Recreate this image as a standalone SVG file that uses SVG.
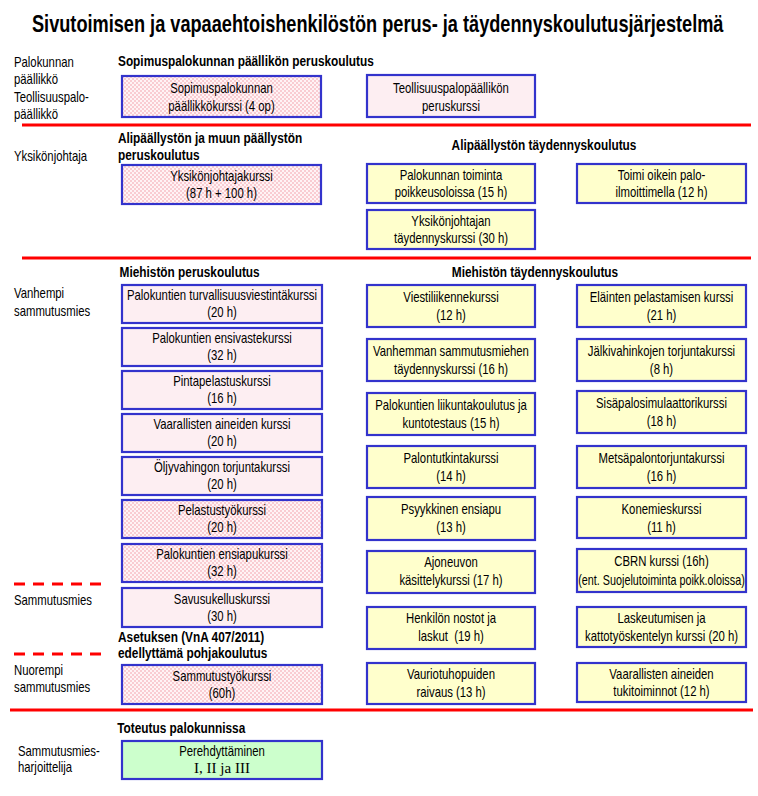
<svg xmlns="http://www.w3.org/2000/svg" width="758" height="796" viewBox="0 0 758 796">
<style>
text{font-family:"Liberation Sans",Arial,sans-serif;fill:#000}
.title{font-size:23px;font-weight:bold}
.h{font-size:15px;font-weight:bold}
.t{font-size:14px}
.c{text-anchor:middle}
.serif{font-family:"Liberation Serif","Times New Roman",serif;font-size:15px}
.box{stroke:#3333cc;stroke-width:2.2}
.pk{fill:#fdeef2}
.ht{fill:url(#hatch)}
.yl{fill:#ffffcc}
.gr{fill:#ccffcc}
.sep{stroke:#ff0000;stroke-width:3;fill:none}
.dash{stroke:#ff0000;stroke-width:3;stroke-dasharray:11 8;fill:none}
</style>
<defs>
<pattern id="hatch" width="4" height="4" patternUnits="userSpaceOnUse">
<rect width="4" height="4" fill="#f9ccd2"/>
<rect width="2" height="2" fill="#fff3f5"/>
<rect x="2" y="2" width="2" height="2" fill="#fff3f5"/>
</pattern>
</defs>
<rect width="758" height="796" fill="#ffffff"/>
<g transform="translate(32 0) scale(0.79 1)">
<text class="title" x="0" y="32">Sivutoimisen ja vapaaehtoishenkilöstön perus- ja täydennyskoulutusjärjestelmä</text>
</g>

<g id="connectors">
<line class="sep" x1="22" y1="125" x2="751" y2="125"/>
<line class="sep" x1="22" y1="258" x2="751" y2="258"/>
<line class="sep" x1="10" y1="710" x2="753" y2="710"/>
<line class="dash" x1="14" y1="584" x2="101" y2="584"/>
<line class="dash" x1="14" y1="654" x2="101" y2="654"/>
</g>

<g id="labels">
<g transform="translate(14 0) scale(0.81 1)">
<text class="t" x="0" y="67">Palokunnan</text>
<text class="t" x="0" y="84.5">päällikkö</text>
<text class="t" x="0" y="102">Teollisuuspalo-</text>
<text class="t" x="0" y="119.5">päällikkö</text>
<text class="t" x="0" y="161">Yksikönjohtaja</text>
<text class="t" x="0" y="298">Vanhempi</text>
<text class="t" x="0" y="316">sammutusmies</text>
<text class="t" x="0" y="605">Sammutusmies</text>
<text class="t" x="0" y="675">Nuorempi</text>
<text class="t" x="0" y="692">sammutusmies</text>
</g>
<g transform="translate(18 0) scale(0.81 1)">
<text class="t" x="0" y="756">Sammutusmies-</text>
<text class="t" x="0" y="772">harjoittelija</text>
</g>
</g>

<g id="headers">
<g transform="translate(118 0) scale(0.79 1)">
<text class="h" x="0" y="66">Sopimuspalokunnan päällikön peruskoulutus</text>
<text class="h" x="0" y="143">Alipäällystön ja muun päällystön</text>
<text class="h" x="0" y="160">peruskoulutus</text>
<text class="h" x="2" y="277">Miehistön peruskoulutus</text>
<text class="h" x="0" y="642">Asetuksen (VnA 407/2011)</text>
<text class="h" x="0" y="658">edellyttämä pohjakoulutus</text>
<text class="h" x="-1" y="733">Toteutus palokunnissa</text>
</g>
<g transform="translate(544 0) scale(0.79 1)">
<text class="h c" x="0" y="150">Alipäällystön täydennyskoulutus</text>
</g>
<g transform="translate(535 0) scale(0.79 1)">
<text class="h c" x="0" y="277">Miehistön täydennyskoulutus</text>
</g>
</g>

<g id="n-sopimus"><rect class="box ht" x="122" y="76" width="199" height="41"/>
<g transform="translate(221.5 0) scale(0.81 1)"><text class="t c" x="0" y="93.5">Sopimuspalokunnan</text><text class="t c" x="0" y="111">päällikkökurssi (4 op)</text></g></g>
<g id="n-teollisuus"><rect class="box pk" x="367" y="75" width="168" height="42"/>
<g transform="translate(451 0) scale(0.81 1)"><text class="t c" x="0" y="93">Teollisuuspalopäällikön</text><text class="t c" x="0" y="111">peruskurssi</text></g></g>

<g id="n-yksikonjohtajakurssi"><rect class="box ht" x="122" y="165" width="199" height="39"/>
<g transform="translate(221.5 0) scale(0.81 1)"><text class="t c" x="0" y="181">Yksikönjohtajakurssi</text><text class="t c" x="0" y="198">(87 h + 100 h)</text></g></g>
<g id="n-poikkeusolot"><rect class="box yl" x="367" y="164" width="168" height="39"/>
<g transform="translate(451 0) scale(0.81 1)"><text class="t c" x="0" y="180">Palokunnan toiminta</text><text class="t c" x="0" y="197">poikkeusoloissa (15 h)</text></g></g>
<g id="n-paloilmoitin"><rect class="box yl" x="577" y="164" width="169" height="39"/>
<g transform="translate(661.5 0) scale(0.81 1)"><text class="t c" x="0" y="180">Toimi oikein palo-</text><text class="t c" x="0" y="197">ilmoittimella (12 h)</text></g></g>
<g id="n-yksikon-tayd"><rect class="box yl" x="367" y="210" width="168" height="39"/>
<g transform="translate(451 0) scale(0.81 1)"><text class="t c" x="0" y="226">Yksikönjohtajan</text><text class="t c" x="0" y="243">täydennyskurssi (30 h)</text></g></g>

<g id="n-p1"><rect class="box pk" x="122" y="285" width="200" height="38"/>
<g transform="translate(222 0) scale(0.81 1)"><text class="t c" x="0" y="300">Palokuntien turvallisuusviestintäkurssi</text><text class="t c" x="0" y="317">(20 h)</text></g></g>
<g id="n-p2"><rect class="box pk" x="122" y="328" width="200" height="38"/>
<g transform="translate(222 0) scale(0.81 1)"><text class="t c" x="0" y="343">Palokuntien ensivastekurssi</text><text class="t c" x="0" y="360">(32 h)</text></g></g>
<g id="n-p3"><rect class="box pk" x="122" y="371" width="200" height="38"/>
<g transform="translate(222 0) scale(0.81 1)"><text class="t c" x="0" y="386">Pintapelastuskurssi</text><text class="t c" x="0" y="403">(16 h)</text></g></g>
<g id="n-p4"><rect class="box pk" x="122" y="414" width="200" height="38"/>
<g transform="translate(222 0) scale(0.81 1)"><text class="t c" x="0" y="429">Vaarallisten aineiden kurssi</text><text class="t c" x="0" y="446">(20 h)</text></g></g>
<g id="n-p5"><rect class="box pk" x="122" y="457" width="200" height="38"/>
<g transform="translate(222 0) scale(0.81 1)"><text class="t c" x="0" y="472">Öljyvahingon torjuntakurssi</text><text class="t c" x="0" y="489">(20 h)</text></g></g>
<g id="n-p6"><rect class="box ht" x="122" y="500" width="200" height="38"/>
<g transform="translate(222 0) scale(0.81 1)"><text class="t c" x="0" y="515">Pelastustyökurssi</text><text class="t c" x="0" y="532">(20 h)</text></g></g>
<g id="n-p7"><rect class="box ht" x="122" y="544" width="200" height="38"/>
<g transform="translate(222 0) scale(0.81 1)"><text class="t c" x="0" y="559">Palokuntien ensiapukurssi</text><text class="t c" x="0" y="576">(32 h)</text></g></g>
<g id="n-p8"><rect class="box pk" x="122" y="588" width="200" height="39"/>
<g transform="translate(222 0) scale(0.81 1)"><text class="t c" x="0" y="604">Savusukelluskurssi</text><text class="t c" x="0" y="621">(30 h)</text></g></g>
<g id="n-p9"><rect class="box ht" x="122" y="665" width="200" height="39"/>
<g transform="translate(222 0) scale(0.81 1)"><text class="t c" x="0" y="681">Sammutustyökurssi</text><text class="t c" x="0" y="698">(60h)</text></g></g>
<g id="n-perehdyttaminen"><rect class="box gr" x="122" y="741" width="200" height="38"/>
<g transform="translate(222 0) scale(0.81 1)"><text class="t c" x="0" y="756">Perehdyttäminen</text></g>
<text class="serif c" x="222" y="773">I, II ja III</text></g>

<g id="n-a1"><rect class="box yl" x="367" y="285" width="168" height="42"/>
<g transform="translate(451 0) scale(0.81 1)"><text class="t c" x="0" y="302">Viestiliikennekurssi</text><text class="t c" x="0" y="320">(12 h)</text></g></g>
<g id="n-a2"><rect class="box yl" x="367" y="339" width="168" height="42"/>
<g transform="translate(451 0) scale(0.81 1)"><text class="t c" x="0" y="356">Vanhemman sammutusmiehen</text><text class="t c" x="0" y="374">täydennyskurssi (16 h)</text></g></g>
<g id="n-a3"><rect class="box yl" x="367" y="393" width="168" height="42"/>
<g transform="translate(451 0) scale(0.81 1)"><text class="t c" x="0" y="410">Palokuntien liikuntakoulutus ja</text><text class="t c" x="0" y="428">kuntotestaus (15 h)</text></g></g>
<g id="n-a4"><rect class="box yl" x="367" y="446" width="168" height="42"/>
<g transform="translate(451 0) scale(0.81 1)"><text class="t c" x="0" y="463">Palontutkintakurssi</text><text class="t c" x="0" y="481">(14 h)</text></g></g>
<g id="n-a5"><rect class="box yl" x="367" y="497" width="168" height="43"/>
<g transform="translate(451 0) scale(0.81 1)"><text class="t c" x="0" y="514">Psyykkinen ensiapu</text><text class="t c" x="0" y="532">(13 h)</text></g></g>
<g id="n-a6"><rect class="box yl" x="367" y="551" width="168" height="42"/>
<g transform="translate(451 0) scale(0.81 1)"><text class="t c" x="0" y="567">Ajoneuvon</text><text class="t c" x="0" y="585">käsittelykurssi (17 h)</text></g></g>
<g id="n-a7"><rect class="box yl" x="367" y="607" width="168" height="42"/>
<g transform="translate(451 0) scale(0.81 1)"><text class="t c" x="0" y="623">Henkilön nostot ja</text><text class="t c" x="0" y="641" xml:space="preserve">laskut  (19 h)</text></g></g>
<g id="n-a8"><rect class="box yl" x="367" y="663" width="168" height="41"/>
<g transform="translate(451 0) scale(0.81 1)"><text class="t c" x="0" y="679">Vauriotuhopuiden</text><text class="t c" x="0" y="697">raivaus (13 h)</text></g></g>

<g id="n-b1"><rect class="box yl" x="577" y="285" width="169" height="42"/>
<g transform="translate(661.5 0) scale(0.81 1)"><text class="t c" x="0" y="302">Eläinten pelastamisen kurssi</text><text class="t c" x="0" y="320">(21 h)</text></g></g>
<g id="n-b2"><rect class="box yl" x="577" y="339" width="169" height="42"/>
<g transform="translate(661.5 0) scale(0.81 1)"><text class="t c" x="0" y="356">Jälkivahinkojen torjuntakurssi</text><text class="t c" x="0" y="374">(8 h)</text></g></g>
<g id="n-b3"><rect class="box yl" x="577" y="391" width="169" height="42"/>
<g transform="translate(661.5 0) scale(0.81 1)"><text class="t c" x="0" y="408">Sisäpalosimulaattorikurssi</text><text class="t c" x="0" y="426">(18 h)</text></g></g>
<g id="n-b4"><rect class="box yl" x="577" y="446" width="169" height="42"/>
<g transform="translate(661.5 0) scale(0.81 1)"><text class="t c" x="0" y="463">Metsäpalontorjuntakurssi</text><text class="t c" x="0" y="481">(16 h)</text></g></g>
<g id="n-b5"><rect class="box yl" x="577" y="497" width="169" height="41"/>
<g transform="translate(661.5 0) scale(0.81 1)"><text class="t c" x="0" y="514">Konemieskurssi</text><text class="t c" x="0" y="532">(11 h)</text></g></g>
<g id="n-b6"><rect class="box yl" x="577" y="549" width="169" height="43"/>
<g transform="translate(661.5 0) scale(0.81 1)"><text class="t c" x="0" y="566">CBRN kurssi (16h)</text></g>
<g transform="translate(661.5 0) scale(0.77 1)"><text class="t c" x="0" y="585">(ent. Suojelutoiminta poikk.oloissa)</text></g></g>
<g id="n-b7"><rect class="box yl" x="577" y="607" width="169" height="40"/>
<g transform="translate(661.5 0) scale(0.81 1)"><text class="t c" x="0" y="623">Laskeutumisen ja</text><text class="t c" x="0" y="641">kattotyöskentelyn kurssi (20 h)</text></g></g>
<g id="n-b8"><rect class="box yl" x="577" y="663" width="169" height="39"/>
<g transform="translate(661.5 0) scale(0.81 1)"><text class="t c" x="0" y="679">Vaarallisten aineiden</text><text class="t c" x="0" y="696">tukitoiminnot (12 h)</text></g></g>
</svg>
